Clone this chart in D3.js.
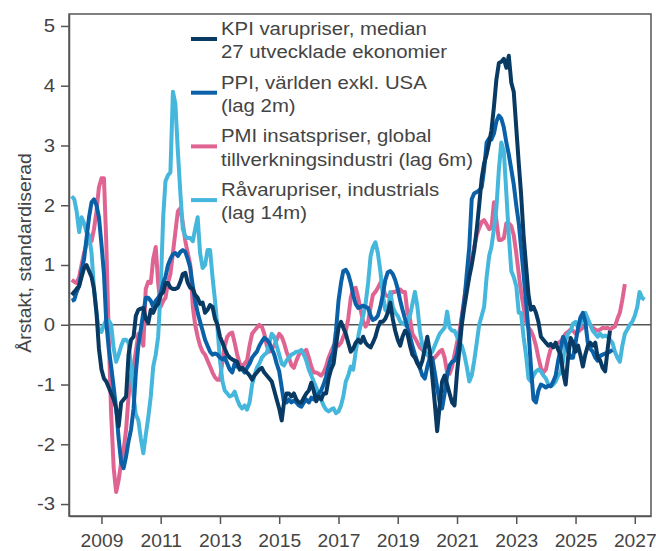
<!DOCTYPE html>
<html>
<head>
<meta charset="utf-8">
<script src="https://cdn.jsdelivr.net/npm/d3@7"></script>
<style>
  body { margin: 0; background: #fff; }
  svg { display: block; font-family: "Liberation Sans", Arial, sans-serif; }
  .axis text { fill: #444; font-size: 18.5px; }
  .axis path, .axis line { stroke: #555; stroke-width: 1.5; }
</style>
</head>
<body>
<div id="chart"></div>
<script>
// monthly values, first value = Jan 2008
const startYear = 2008

const kpi = [0.5,0.55,0.6,0.65,0.8,0.95,1.0,0.9,0.8,0.6,0.2,-0.4,
  -0.75,-0.9,-0.95,-1.05,-1.15,-1.25,-1.4,-1.7,-1.3,-1.25,-1.2,-0.5,
  -0.25,-0.2,0.15,0.25,0.27,0.28,0.1,0.03,0.25,0.2,0.3,0.35,
  0.5,0.55,0.7,0.7,0.62,0.6,0.6,0.62,0.72,0.85,0.87,0.7,
  0.62,0.6,0.5,0.45,0.35,0.37,0.2,0.25,0.33,0.3,0.1,0.0,
  -0.2,-0.3,-0.4,-0.5,-0.55,-0.58,-0.6,-0.62,-0.75,-0.72,-0.76,-0.8,
  -0.85,-0.92,-0.85,-0.8,-0.75,-0.72,-0.8,-0.85,-0.9,-0.95,-1.1,-1.25,
  -1.4,-1.6,-1.3,-1.15,-1.15,-1.2,-1.15,-1.25,-1.3,-1.3,-1.22,-1.15,
  -1.1,-0.97,-1.1,-1.28,-1.2,-1.25,-1.15,-1.15,-0.9,-0.75,-0.65,-0.35,
  -0.05,0.05,-0.05,-0.15,-0.3,-0.45,-0.4,-0.3,-0.25,-0.3,-0.2,-0.3,
  -0.35,-0.38,-0.3,-0.2,-0.05,0.05,0.05,0.1,0.2,0.37,0.1,-0.1,
  -0.25,-0.35,-0.2,-0.1,-0.15,-0.35,-0.5,-0.55,-0.65,-0.72,-0.6,-0.4,
  -0.2,-0.45,-0.85,-1.3,-1.78,-1.35,-0.95,-0.85,-1.0,-1.15,-1.3,-1.35,
  -0.8,-0.4,0.0,0.3,0.55,0.8,1.0,1.25,1.6,2.0,2.45,2.7,
  2.85,3.05,3.25,3.65,4.1,4.38,4.4,4.45,4.3,4.5,4.05,3.9,
  3.3,2.7,2.2,1.5,1.0,0.5,0.25,0.3,0.2,0.05,-0.2,-0.25,
  -0.3,-0.35,-0.32,-0.38,-0.3,-0.42,-0.5,-0.8,-1.0,-0.55,-0.22,-0.3,
  -0.45,-0.35,-0.5,-0.7,-0.5,-0.35,-0.3,-0.35,-0.3,-0.55,-0.6,-0.72,
  -0.78,-0.4,-0.1]

const ppi = [0.4,0.42,0.55,0.65,0.9,1.1,1.45,1.8,2.05,2.1,2.0,1.8,
  1.35,0.85,0.05,-0.4,-0.7,-1.05,-1.4,-1.9,-2.3,-2.4,-2.2,-1.95,
  -1.75,-1.4,-0.8,-0.35,-0.08,0.2,0.45,0.45,0.4,0.3,0.4,0.45,
  0.52,0.7,0.8,1.0,1.1,1.18,1.2,1.15,1.22,1.25,1.22,1.1,
  0.95,0.65,0.4,0.2,0.05,-0.1,-0.25,-0.35,-0.45,-0.5,-0.48,-0.5,
  -0.55,-0.58,-0.55,-0.65,-0.75,-0.8,-0.65,-0.7,-0.72,-0.75,-0.8,-0.72,
  -0.65,-0.55,-0.5,-0.45,-0.35,-0.28,-0.22,-0.25,-0.3,-0.4,-0.5,-0.65,
  -0.78,-1.05,-1.3,-1.3,-1.25,-1.3,-1.27,-1.3,-1.35,-1.37,-1.3,-1.25,
  -1.3,-1.22,-1.25,-1.2,-1.15,-1.1,-1.0,-0.87,-0.7,-0.55,-0.45,-0.1,
  0.4,0.7,0.9,0.92,0.85,0.7,0.5,0.35,0.28,0.3,0.32,0.3,
  0.28,0.15,0.08,0.1,0.15,0.3,0.5,0.75,0.88,0.9,0.85,0.75,
  0.6,0.4,0.25,0.1,-0.05,-0.2,-0.35,-0.5,-0.62,-0.72,-0.85,-0.9,
  -0.7,-0.55,-0.55,-0.8,-1.05,-1.3,-1.4,-1.15,-0.85,-0.68,-0.62,-0.6,
  -0.5,-0.25,0.1,0.4,0.85,1.3,2.1,2.2,2.22,2.25,2.3,2.6,
  3.05,3.12,3.1,3.2,3.4,3.5,3.45,3.3,3.05,2.85,2.6,2.35,
  2.0,1.7,1.3,0.85,0.4,-0.1,-0.7,-1.25,-1.3,-1.1,-1.0,-1.02,
  -1.05,-1.02,-1.03,-0.95,-0.85,-0.6,-0.4,-0.2,-0.3,-0.45,-0.55,-0.55,
  -0.3,-0.05,0.12,0.2,0.05,-0.3,-0.4,-0.45,-0.55,-0.6,-0.52,-0.5,
  -0.48,-0.47,-0.45,-0.42]

const pmi = [0.75,0.72,0.7,0.8,1.0,1.2,1.35,1.4,1.4,1.6,1.9,2.3,
  2.45,2.45,1.4,-0.2,-1.5,-2.4,-2.8,-2.6,-2.3,-2.1,-1.75,-1.2,
  -0.85,-0.7,-0.45,-0.15,-0.2,-0.35,0.6,0.72,0.7,1.1,1.3,0.7,
  0.3,0.4,0.45,0.7,0.85,1.2,1.55,1.9,1.95,1.7,1.4,1.2,
  1.0,0.3,0.0,-0.2,-0.35,-0.45,-0.5,-0.6,-0.7,-0.8,-0.88,-0.92,
  -0.92,-0.6,-0.35,-0.2,-0.15,-0.13,-0.3,-0.5,-0.65,-0.7,-0.65,-0.6,
  -0.35,-0.15,-0.1,-0.05,0.0,-0.03,-0.15,-0.35,-0.45,-0.4,-0.35,-0.25,
  -0.15,-0.2,-0.3,-0.45,-0.55,-0.68,-0.72,-0.6,-0.5,-0.45,-0.45,-0.42,
  -0.55,-0.7,-0.8,-0.8,-0.82,-0.85,-0.8,-0.7,-0.55,-0.45,-0.35,-0.3,
  -0.35,-0.3,-0.2,-0.1,0.1,0.45,0.6,0.62,0.45,0.25,0.05,-0.03,
  0.05,0.3,0.5,0.55,0.62,0.7,0.62,0.5,0.48,0.47,0.55,0.55,
  0.58,0.59,0.55,0.55,0.2,0.1,-0.15,-0.22,-0.3,-0.38,-0.42,-0.48,
  -0.5,-0.55,-0.58,-0.55,-0.5,-0.45,-0.42,-0.55,-0.8,-0.82,-0.7,-0.5,
  -0.3,-0.1,0.15,0.45,0.7,0.9,1.1,1.3,1.5,1.62,1.72,1.75,
  1.68,1.6,1.62,2.05,1.75,1.42,1.42,1.45,1.7,1.7,1.65,1.5,
  1.2,0.85,0.55,0.3,0.05,-0.05,-0.1,-0.2,-0.35,-0.55,-0.72,-0.8,
  -0.75,-0.55,-0.4,-0.35,-0.32,-0.3,-0.28,-0.22,-0.15,-0.12,-0.08,-0.1,
  -0.15,-0.12,-0.08,-0.05,0.0,0.03,0.0,-0.05,-0.08,-0.1,-0.08,-0.05,
  -0.06,-0.05,-0.08,-0.05,-0.03,0.1,0.2,0.42,0.68]

const ravaror = [2.15,2.1,1.9,1.55,1.8,1.7,1.55,1.5,1.2,0.6,0.2,-0.1,
  -0.12,0.0,0.08,0.07,0.0,-0.4,-0.62,-0.5,-0.35,-0.25,-0.25,-0.3,
  -0.7,-1.2,-1.5,-1.6,-1.9,-2.15,-1.85,-1.55,-1.2,-0.7,-0.5,-0.2,
  0.6,1.8,2.4,2.5,2.55,3.9,3.7,2.9,2.2,1.6,1.48,1.45,
  1.45,1.4,1.6,1.8,1.2,0.95,1.0,1.25,1.25,0.8,0.4,-0.05,
  -0.6,-0.95,-1.1,-1.15,-1.2,-1.18,-1.12,-1.25,-1.35,-1.4,-1.35,-1.42,
  -1.3,-1.0,-0.85,-0.72,-0.65,-0.55,-0.5,-0.47,-0.3,-0.15,-0.2,-0.35,
  -0.5,-0.65,-0.68,-0.6,-0.55,-0.5,-0.48,-0.45,-0.45,-0.42,-0.5,-0.6,
  -0.75,-0.85,-0.95,-1.05,-1.15,-1.25,-1.35,-1.42,-1.45,-1.42,-1.4,-1.48,
  -1.45,-1.35,-1.2,-0.95,-0.85,-0.7,-0.75,-0.45,-0.2,0.0,0.15,0.35,
  0.7,1.15,1.3,1.38,1.2,0.9,0.5,0.25,0.2,0.55,0.3,0.2,
  0.15,0.05,0.03,0.0,0.05,0.15,0.35,0.55,0.3,-0.1,-0.35,-0.45,
  -0.5,-0.5,-0.45,-0.35,-0.25,-0.15,-0.1,-0.05,0.22,-0.05,-0.1,-0.1,
  -0.2,-0.3,-0.35,-0.5,-0.7,-0.95,-0.85,-0.6,-0.3,0.0,0.15,0.3,
  0.8,1.15,1.3,1.6,1.95,2.6,3.05,2.9,2.2,1.5,0.9,0.8,
  0.65,0.2,0.2,-0.2,-0.5,-0.9,-0.95,-0.85,-0.78,-0.75,-0.78,-0.85,
  -0.9,-1.0,-1.03,-1.0,-0.95,-0.85,-0.8,-0.6,-0.25,-0.15,-0.1,0.02,
  0.05,-0.05,0.0,0.15,0.2,0.1,0.0,-0.1,-0.15,-0.2,-0.15,-0.2,
  -0.18,-0.2,-0.25,-0.3,-0.45,-0.55,-0.62,-0.35,-0.15,-0.08,0.0,0.05,
  0.15,0.3,0.55,0.45,0.42]

const seriesNames = [
  ['KPI varupriser, median', '27 utvecklade ekonomier'],
  ['PPI, världen exkl. USA', '(lag 2m)'],
  ['PMI insatspriser, global', 'tillverkningsindustri (lag 6m)'],
  ['Råvarupriser, industrials', '(lag 14m)']
]
const colors = ['#083a63', '#0b61a8', '#e06492', '#45b6dc']
const yTicks = [-3, -2, -1, 0, 1, 2, 3, 4, 5]
const xTickYears = [2009, 2011, 2013, 2015, 2017, 2019, 2021, 2023, 2025, 2027]
const yLabel = 'Årstakt, standardiserad'

const W = 656, H = 551
const margin = { top: 14, right: 5, bottom: 35, left: 69 }
const width = W - margin.left - margin.right
const height = H - margin.top - margin.bottom
const stretch = 'scale(1.1,1)' // the reference text is a bit wider than Arial

const toPoints = arr => arr.map((v, i) => ({ date: new Date(startYear, i, 1), value: v }))
const allSeries = [kpi, ppi, pmi, ravaror].map(toPoints)

const svg = d3.select('#chart').append('svg')
  .attr('width', W)
  .attr('height', H)
  .append('g')
  .attr('transform', `translate(${margin.left},${margin.top})`)

const x = d3.scaleTime()
  .domain([new Date(2007, 10, 28), new Date(2027, 6, 20)])
  .range([0, width])
const y = d3.scaleLinear().domain([-3.2, 5.2]).range([height, 0])

// x axis
const gx = svg.append('g')
  .attr('class', 'axis')
  .attr('transform', `translate(0,${height})`)
  .call(d3.axisBottom(x)
    .tickValues(xTickYears.map(yr => new Date(yr, 0, 1)))
    .tickFormat(d3.timeFormat('%Y'))
    .tickSizeInner(8).tickSizeOuter(0).tickPadding(10))
gx.selectAll('text').attr('transform', 'scale(1.04,1)')

// y axis, plain hyphen for minus
const gy = svg.append('g')
  .attr('class', 'axis')
  .call(d3.axisLeft(y)
    .tickValues(yTicks)
    .tickFormat(d => String(d))
    .tickSizeInner(8).tickSizeOuter(0).tickPadding(6))
gy.selectAll('text').attr('x', -14 / 1.1).attr('transform', stretch)

// frame
svg.append('rect')
  .attr('width', width)
  .attr('height', height)
  .attr('fill', 'none')
  .attr('stroke', '#555')
  .attr('stroke-width', 1.5)

// zero line
svg.append('line')
  .attr('x1', 0).attr('x2', width)
  .attr('y1', y(0)).attr('y2', y(0))
  .attr('stroke', '#555')
  .attr('stroke-width', 1.3)

const line = d3.line()
  .x(d => x(d.date))
  .y(d => y(d.value))

// draw order: PMI, råvaror, PPI, KPI on top
const order = [2, 3, 1, 0]
order.forEach(i => {
  svg.append('path')
    .datum(allSeries[i])
    .attr('fill', 'none')
    .attr('stroke', colors[i])
    .attr('stroke-width', 4)
    .attr('stroke-linejoin', 'round')
    .attr('d', line)
})

// y label
svg.append('text')
  .attr('transform', `translate(-38,${253 - margin.top}) rotate(-90) scale(1.05,1)`)
  .attr('text-anchor', 'middle')
  .style('font-size', '18.5px')
  .style('fill', '#444')
  .text(yLabel)

// legend
const legend = svg.append('g').attr('transform', 'translate(122,0)')
seriesNames.forEach((lines, i) => {
  const top = i * 53.7
  legend.append('line')
    .attr('x1', 0).attr('x2', 26)
    .attr('y1', top + 25).attr('y2', top + 25)
    .attr('stroke', colors[i])
    .attr('stroke-width', 4)
  const t = legend.append('text')
    .attr('transform', `translate(30,${top + 21}) ${stretch}`)
    .style('font-size', '18.5px')
    .style('fill', '#444')
  lines.forEach((s, j) => {
    t.append('tspan')
      .attr('x', 0)
      .attr('y', j * 23.3)
      .text(s)
  })
})
</script>
</body>
</html>
